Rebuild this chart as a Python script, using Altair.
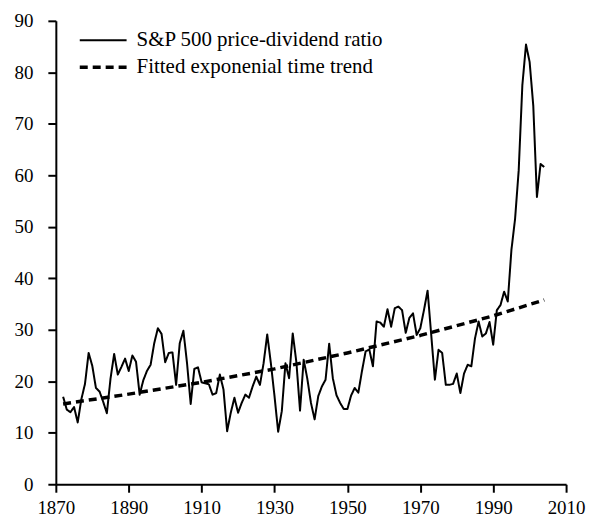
import altair as alt
import pandas as pd

# S&P 500 price-dividend ratio, annual
years = list(range(1872, 2005))
pd_ratio = [
    17.0, 14.5, 14.0, 15.0, 12.0, 16.5, 19.5, 25.5, 23.0, 18.7,   # 1872-1881
    18.0, 16.0, 13.8, 20.5, 25.3, 21.3, 22.8, 24.4, 22.0, 25.0,   # 1882-1891
    23.8, 17.4, 20.2, 22.0, 23.2, 27.4, 30.3, 29.2, 23.7, 25.5,   # 1892-1901
    25.6, 19.3, 27.4, 29.8, 23.5, 15.6, 22.4, 22.7, 19.8, 19.6,   # 1902-1911
    19.4, 17.4, 17.7, 21.3, 18.4, 10.3, 13.9, 16.8, 13.9, 15.8,   # 1912-1921
    17.4, 16.8, 19.0, 20.9, 19.3, 23.5, 29.1, 23.5, 17.1, 10.2,   # 1922-1931
    14.2, 23.5, 20.6, 29.3, 23.7, 14.3, 24.2, 20.5, 15.8, 12.6,   # 1932-1941
    17.1, 19.0, 20.3, 27.3, 20.6, 17.3, 15.8, 14.6, 14.6, 17.2,   # 1942-1951
    18.7, 17.8, 22.0, 25.8, 26.2, 22.9, 31.6, 31.4, 30.6, 34.0,   # 1952-1961
    30.6, 34.2, 34.5, 33.8, 29.4, 32.3, 33.2, 29.0, 30.3, 33.8,   # 1962-1971
    37.6, 29.0, 20.3, 26.1, 25.5, 19.3, 19.3, 19.5, 21.5, 17.7,   # 1972-1981
    21.5, 23.2, 22.9, 28.3, 31.6, 28.7, 29.3, 31.5, 27.1, 33.8,   # 1982-1991
    34.8, 37.4, 35.5, 45.5, 51.5, 61.0, 77.5, 85.4, 82.0, 73.5,   # 1992-2001
    55.8, 62.2, 61.6,                                             # 2002-2004
]

# Fitted exponential time trend (read at anchor years)
trend_years = [1872, 1890, 1910, 1930, 1950, 1970, 1990, 2004]
trend_vals = [15.6, 17.5, 19.8, 22.4, 25.5, 28.9, 32.7, 35.8]

s1 = "S&P 500 price-dividend ratio"
s2 = "Fitted exponenial time trend"
series_names = [s1, s2]

df = pd.concat([
    pd.DataFrame({"year": years, "value": pd_ratio, "series": s1}),
    pd.DataFrame({"year": trend_years, "value": trend_vals, "series": s2}),
])

x_ticks = list(range(1870, 2011, 20))
y_ticks = list(range(0, 91, 10))

FONT = "Liberation Serif"

chart = alt.Chart(df).mark_line(strokeCap="butt", strokeJoin="round").encode(
    x=alt.X("year:Q", scale=alt.Scale(domain=[1870, 2010], nice=False, zero=False),
            axis=alt.Axis(values=x_ticks, format="d", title=None, labelFlush=False)),
    y=alt.Y("value:Q", scale=alt.Scale(domain=[0, 90], nice=False),
            axis=alt.Axis(values=y_ticks, title=None, labelFlush=False)),
    color=alt.Color("series:N", scale=alt.Scale(domain=series_names, range=["black", "black"]),
                    legend=alt.Legend(title=None)),
    strokeDash=alt.StrokeDash("series:N", scale=alt.Scale(domain=series_names, range=[[1, 0], [8, 5]]),
                              legend=alt.Legend(title=None)),
    strokeWidth=alt.StrokeWidth("series:N", scale=alt.Scale(type="ordinal", domain=series_names, range=[2, 3.5]),
                                legend=alt.Legend(title=None)),
    detail="series:N",
).properties(
    width=512, height=465,
    autosize=alt.AutoSizeParams(type="none"),
    padding={"left": 48, "top": 12, "right": 25, "bottom": 35},
).configure_view(
    stroke=None
).configure_axis(
    grid=False,
    domainColor="black", domainWidth=2,
    tickColor="black", tickWidth=2, tickSize=8,
    labelFont=FONT, labelFontSize=19, labelColor="black",
).configure_axisY(
    labelPadding=15,
).configure_axisX(
    labelPadding=6,
).configure_legend(
    orient="none", legendX=37, legendY=9,
    symbolType="M-4,0H4", symbolSize=138,
    labelFont=FONT, labelFontSize=21, labelColor="black", labelLimit=0,
    labelOffset=23, rowPadding=5, padding=0,
)

chart.save("out.html", embed_options={"renderer": "svg", "actions": False})
